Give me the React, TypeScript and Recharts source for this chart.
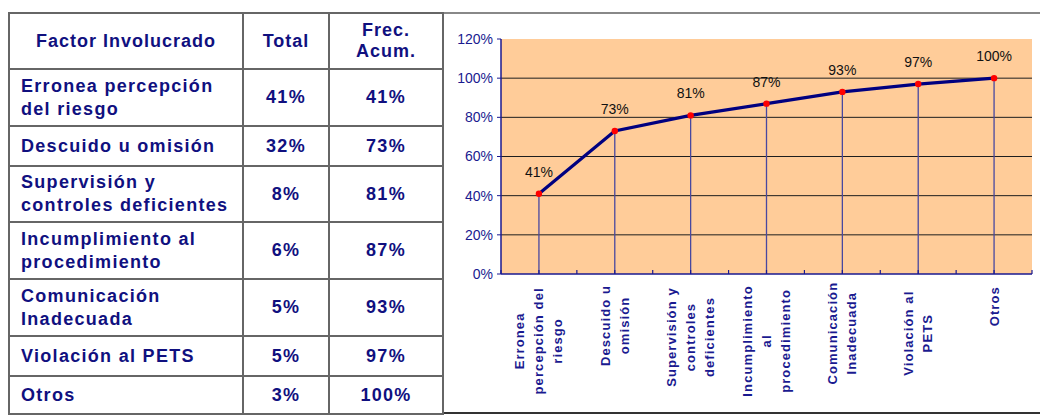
import { ComposedChart, Line, XAxis, YAxis, CartesianGrid, LabelList, ReferenceLine } from "recharts"

const factorNames = [
  "Erronea percepción\ndel riesgo",
  "Descuido u omisión",
  "Supervisión y\ncontroles deficientes",
  "Incumplimiento al\nprocedimiento",
  "Comunicación\nInadecuada",
  "Violación al PETS",
  "Otros",
]
const axisLabels = [
  "Erronea\npercepción del\nriesgo",
  "Descuido u\nomisión",
  "Supervisión y\ncontroles\ndeficientes",
  "Incumplimiento\nal\nprocedimiento",
  "Comunicación\nInadecuada",
  "Violación al\nPETS",
  "Otros",
]
const totals = [41, 32, 8, 6, 5, 5, 3]
const cumulative = [41, 73, 81, 87, 93, 97, 100]
const yTicks = [0, 20, 40, 60, 80, 100, 120]
const gridValues = [20, 40, 60, 80, 100]

const rowHeights = [57, 40, 56, 57, 57, 40, 38]

const data = cumulative.map((v, i) => ({ pos: i + 0.5, acum: v }))
const xTicks = Array.from({ length: cumulative.length * 2 + 1 }, (_, i) => i / 2)

const NAVY = "#10107f"
const AXIS = "#1a1a90"

function CategoryTick(props: any) {
  const { x, y, payload } = props
  const v = payload.value
  const idx = Math.floor(v)
  const isCenter = Math.abs(v - idx - 0.5) < 0.01 && idx < axisLabels.length
  const mark = <line x1={0} y1={0} x2={0} y2={-4} stroke={AXIS} strokeWidth={1.2} />
  if (!isCenter) return <g transform={`translate(${x},${y})`}>{mark}</g>
  const lines = axisLabels[idx].split("\n")
  const maxLen = Math.max(...lines.map((l) => l.length))
  const cx = -(13 + (maxLen * 7.7) / 2)
  return (
    <g transform={`translate(${x},${y})`}>
      {mark}
      <text
        transform="rotate(-90)"
        textAnchor="middle"
        fill={AXIS}
        fontSize={13}
        fontWeight="bold"
        letterSpacing={1.1}
      >
        {lines.map((l, i) => (
          <tspan key={i} x={cx} y={(i - (lines.length - 1) / 2) * 19 + 4.5}>
            {l}
          </tspan>
        ))}
      </text>
    </g>
  )
}

const cell: React.CSSProperties = {
  border: "2px solid #666",
  padding: "0 0 0 11px",
  color: NAVY,
  fontWeight: "bold",
  fontSize: 18,
  letterSpacing: 1.3,
  lineHeight: "23px",
  whiteSpace: "pre-line",
}

export default function App() {
  return (
    <div
      style={{
        position: "absolute",
        left: 0,
        top: 0,
        width: 1040,
        height: 418,
        background: "#fff",
        fontFamily: "'Liberation Sans', Arial, sans-serif",
        overflow: "hidden",
      }}
    >
      <div style={{ position: "absolute", left: 8, top: 12, width: 1032, height: 2, background: "#888" }} />
      <div style={{ position: "absolute", left: 442, top: 412, width: 598, height: 2, background: "#333" }} />
      <table
        style={{
          position: "absolute",
          left: 8,
          top: 12,
          width: 434,
          borderCollapse: "collapse",
          tableLayout: "fixed",
        }}
      >
        <colgroup>
          <col style={{ width: 234 }} />
          <col style={{ width: 86 }} />
          <col style={{ width: 114 }} />
        </colgroup>
        <tbody>
          <tr style={{ height: 56 }}>
            <td style={{ ...cell, textAlign: "center", padding: 0, letterSpacing: 1 }}>Factor Involucrado</td>
            <td style={{ ...cell, textAlign: "center", padding: 0, letterSpacing: 1 }}>Total</td>
            <td style={{ ...cell, textAlign: "center", padding: 0, letterSpacing: 1, lineHeight: "21px" }}>
              {"Frec.\nAcum."}
            </td>
          </tr>
          {factorNames.map((name, i) => (
            <tr key={i} style={{ height: rowHeights[i] }}>
              <td style={cell}>{name}</td>
              <td style={{ ...cell, textAlign: "center", padding: 0 }}>{totals[i]}%</td>
              <td style={{ ...cell, textAlign: "center", padding: 0 }}>{cumulative[i]}%</td>
            </tr>
          ))}
        </tbody>
      </table>
      <div style={{ position: "absolute", left: 442, top: 13 }}>
        <ComposedChart
          width={598}
          height={400}
          data={data}
          margin={{ top: 26, right: 8, left: 9, bottom: 9 }}
        >
          <CartesianGrid
            vertical={false}
            horizontalValues={gridValues}
            stroke="#1e1e1e"
            fill="#ffcc99"
            fillOpacity={1}
          />
          <XAxis
            dataKey="pos"
            type="number"
            domain={[0, cumulative.length]}
            ticks={xTicks}
            interval={0}
            tickLine={false}
            tickSize={0}
            tickMargin={0}
            height={130}
            axisLine={{ stroke: AXIS, strokeWidth: 1.5 }}
            tick={<CategoryTick />}
          />
          <YAxis
            type="number"
            domain={[0, 120]}
            ticks={yTicks}
            interval={0}
            width={50}
            tickSize={4}
            tickMargin={4}
            tickFormatter={(v) => `${v}%`}
            axisLine={{ stroke: AXIS, strokeWidth: 1.5 }}
            tickLine={{ stroke: AXIS }}
            tick={{ fill: AXIS, fontSize: 14 }}
          />
          {data.map((d, i) => (
            <ReferenceLine
              key={i}
              segment={[
                { x: d.pos, y: 0 },
                { x: d.pos, y: d.acum },
              ]}
              stroke="#4848a0"
              strokeWidth={1.3}
            />
          ))}
          <Line
            dataKey="acum"
            type="linear"
            stroke="#000080"
            strokeWidth={3.2}
            dot={{ r: 3.2, fill: "#ff0000", stroke: "none" }}
            activeDot={false}
            isAnimationActive={false}
          >
            <LabelList
              dataKey="acum"
              position="top"
              offset={17}
              formatter={(v: any) => `${v}%`}
              fill="#111"
              fontSize={14}
            />
          </Line>
        </ComposedChart>
      </div>
    </div>
  )
}
